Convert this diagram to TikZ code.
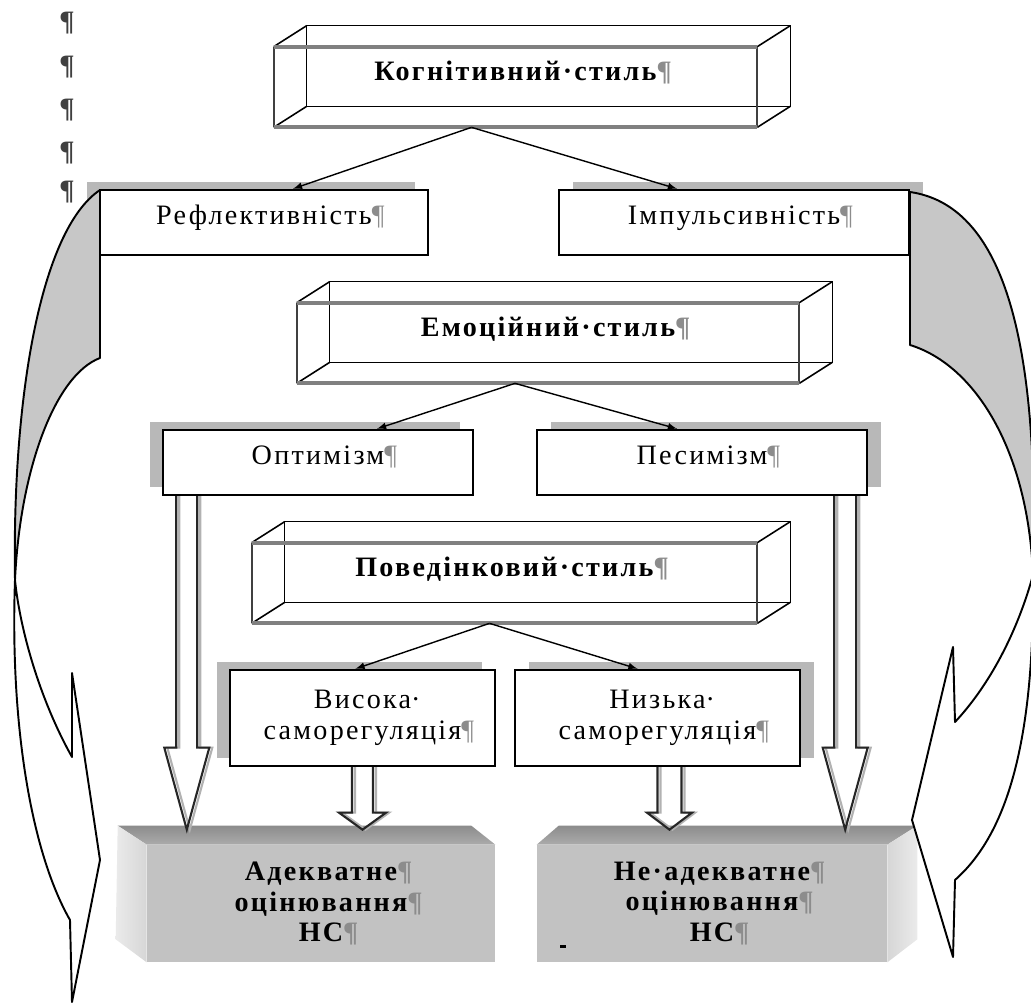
\documentclass[tikz,border=0pt]{standalone}
\usepackage{fontspec}
\setmainfont{Liberation Serif}[LetterSpace=8]
\usetikzlibrary{shadows}
\usetikzlibrary{positioning}
\usetikzlibrary{arrows,shapes}
\usetikzlibrary{calc}

\newcommand{\pil}{\rlap{\textcolor{black!45}{¶}}}
% hollow block arrow: start, tip, shaft half width, head length, head half width
\newcommand{\blockarr}[5]{%
  \draw[barrshade] ($(#1)+(-#3+3,0)$) -- ($(#2)+(-#3+3,-#4)$) -- ($(#2)+(-#5+3,-#4)$) -- ($(#2)+(3,0)$) -- ($(#2)+(#5+3,-#4)$) -- ($(#2)+(#3+3,-#4)$) -- ($(#1)+(#3+3,0)$);
  \draw[barr] ($(#1)+(-#3,0)$) -- ($(#2)+(-#3,-#4)$) -- ($(#2)+(-#5,-#4)$) -- (#2) -- ($(#2)+(#5,-#4)$) -- ($(#2)+(#3,-#4)$) -- ($(#1)+(#3,0)$);
}

\begin{document}
\begin{tikzpicture}[x=0.02cm, y=-0.02cm,
  flatbox/.style={draw, line width=1.4pt, fill=white, inner sep=0pt, minimum height=1.3cm, font=\fontsize{16}{18}\selectfont, text height=0.42cm, text depth=0.35cm},
  twobox/.style={draw, line width=1.4pt, fill=white, inner sep=0pt, minimum height=1.92cm, font=\fontsize{16}{18}\selectfont, align=center},
  lshad/.style={drop shadow={shadow xshift=-0.26cm, shadow yshift=0.16cm, fill=black!28, opacity=1}},
  rshad/.style={drop shadow={shadow xshift=0.28cm, shadow yshift=0.16cm, fill=black!28, opacity=1}},
  cubeface/.style={inner sep=0pt, minimum height=1.6cm, font=\fontsize{16}{18}\selectfont\bfseries, text height=0.42cm, text depth=0.67cm},
  cubeback/.style={line width=0.9pt},
  cubeedge/.style={line width=1pt, black!75},
  cubegray/.style={line width=2.2pt, black!50},
  greybox/.style={fill=black!24, inner sep=0pt, minimum height=2.34cm, align=center, font=\fontsize{16}{17.5}\selectfont\bfseries},
  conn/.style={-latex, line width=0.8pt},
  barr/.style={line width=1.2pt, black!85},
  barrshade/.style={line width=1.2pt, black!30},
  curvearr/.style={line width=1.1pt, line join=round},
  pilmark/.style={black!75, font=\fontsize{16}{18}\selectfont\bfseries}
]
\useasboundingbox (0,0) rectangle (1031,1003);

 %marks
 \foreach \y in {23,67,110,153,192} {
   \node[pilmark] (p\y) at (67,\y) {¶};
 }

 %level 4
 \node[greybox, minimum width=6.96cm] (adek) at (321,903.5) {Адекватне\pil\\оцінювання\pil\\НС\pil};
 \node[greybox, minimum width=7.00cm] (nead) at (712,903.5) {Не·адекватне\pil\\оцінювання\pil\\НС\pil};
 \shade[top color=black!45, bottom color=black!33] (adek.north west) -- ($(adek.north west)+(-29,-19)$) -- ($(adek.north east)+(-24,-19)$) -- (adek.north east) -- cycle;
 \shade[left color=black!8, right color=black!16] (adek.north west) -- ($(adek.north west)+(-29,-19)$) -- ($(adek.south west)+(-31,-23)$) -- (adek.south west) -- cycle;
 \shade[top color=black!45, bottom color=black!33] (nead.north west) -- ($(nead.north west)+(22,-19)$) -- ($(nead.north east)+(30,-19)$) -- (nead.north east) -- cycle;
 \shade[left color=black!16, right color=black!8] (nead.north east) -- ($(nead.north east)+(30,-19)$) -- ($(nead.south east)+(30,-23)$) -- (nead.south east) -- cycle;
 \fill (560,945) rectangle (566,948);

 %level 1
 \node[cubeface, minimum width=9.66cm] (kog) at (515.5,87) {Когнітивний·стиль\pil};
 \node[flatbox, lshad, minimum width=6.56cm] (refl) at (264,222.5) {Рефлективність\pil};
 \node[flatbox, rshad, minimum width=7.00cm] (imp) at (734,222.5) {Імпульсивність\pil};

 %level 2
 \node[cubeface, minimum width=10.04cm] (emo) at (548,343) {Емоційний·стиль\pil};
 \node[flatbox, lshad, minimum width=6.20cm] (opt) at (318,462.5) {Оптимізм\pil};
 \node[flatbox, rshad, minimum width=6.60cm] (pes) at (702,462.5) {Песимізм\pil};

 %level 3
 \node[cubeface, minimum width=10.10cm] (pov) at (504.5,583) {Поведінковий·стиль\pil};
 \node[twobox, lshad, minimum width=5.30cm] (vys) at (362.5,718) {Висока\rlap{·}\\саморегуляція\pil};
 \node[twobox, rshad, minimum width=5.70cm] (nyz) at (657.5,718) {Низька\rlap{·}\\саморегуляція\pil};

 %cubes
 \foreach \nm in {kog,emo,pov} {
   \draw[cubeback] ($(\nm.north west)+(33,-21)$) rectangle ($(\nm.south east)+(33,-21)$);
   \draw[cubeback] (\nm.north west) -- ++(33,-21) (\nm.south west) -- ++(33,-21)
                   (\nm.north east) -- ++(33,-21) (\nm.south east) -- ++(33,-21);
   \draw[cubeedge] (\nm.north west) -- (\nm.south west) (\nm.north east) -- (\nm.south east);
   \draw[cubegray] (\nm.north west) -- (\nm.north east) (\nm.south west) -- (\nm.south east);
 }

 %curved arrows
 \draw[curvearr, fill=black!22] (100,190) .. controls (40,230) and (12,400) .. (15,580)
        .. controls (20,470) and (55,375) .. (100,358) -- cycle;
 \draw[curvearr, fill=white] (15,580) .. controls (10,720) and (30,850) .. (70,920)
        -- (72,1002) -- (100,860) -- (72,673) -- (72,757)
        .. controls (40,700) and (20,630) .. (15,580) -- cycle;
 \draw[curvearr, fill=black!22] (910,192) .. controls (1000,205) and (1040,330) .. (1033,575)
        .. controls (1028,450) and (975,365) .. (910,345) -- cycle;
 \draw[curvearr, fill=white] (1033,575) .. controls (1015,640) and (985,690) .. (955,722)
        -- (953,647) -- (912,820) -- (953,957) -- (955,880)
        .. controls (1000,840) and (1035,760) .. (1033,575) -- cycle;

 %arrows
 \draw[conn] ($(kog.south)+(-44,0)$) -- ($(refl.north)+(29,0)$);
 \draw[conn] ($(kog.south)+(-44,0)$) -- ($(imp.north)+(-57,0)$);
 \draw[conn] ($(emo.south)+(-33,0)$) -- ($(opt.north)+(59,0)$);
 \draw[conn] ($(emo.south)+(-33,0)$) -- ($(pes.north)+(-25,0)$);
 \draw[conn] ($(pov.south)+(-15,0)$) -- ($(vys.north)+(-7,0)$);
 \draw[conn] ($(pov.south)+(-15,0)$) -- ($(nyz.north)+(-20,0)$);

 %block arrows
 \coordinate (o1) at ($(opt.south west)+(25,0)$);
 \coordinate (o2) at ($(o1 |- adek.north)+(0,-15)$);
 \coordinate (p1) at ($(pes.south east)+(-23,0)$);
 \coordinate (p2) at ($(p1 |- nead.north)+(0,-15)$);
 \coordinate (v1) at (vys.south);
 \coordinate (v2) at ($(v1 |- adek.north)+(0,-15)$);
 \coordinate (n1) at ($(nyz.south)+(12,0)$);
 \coordinate (n2) at ($(n1 |- nead.north)+(0,-15)$);
 \blockarr{o1}{o2}{10.5}{82}{22.5}
 \blockarr{p1}{p2}{11}{82}{22.5}
 \blockarr{v1}{v2}{10.5}{17}{23.5}
 \blockarr{n1}{n2}{12}{17}{22.5}

\end{tikzpicture}
\end{document}
